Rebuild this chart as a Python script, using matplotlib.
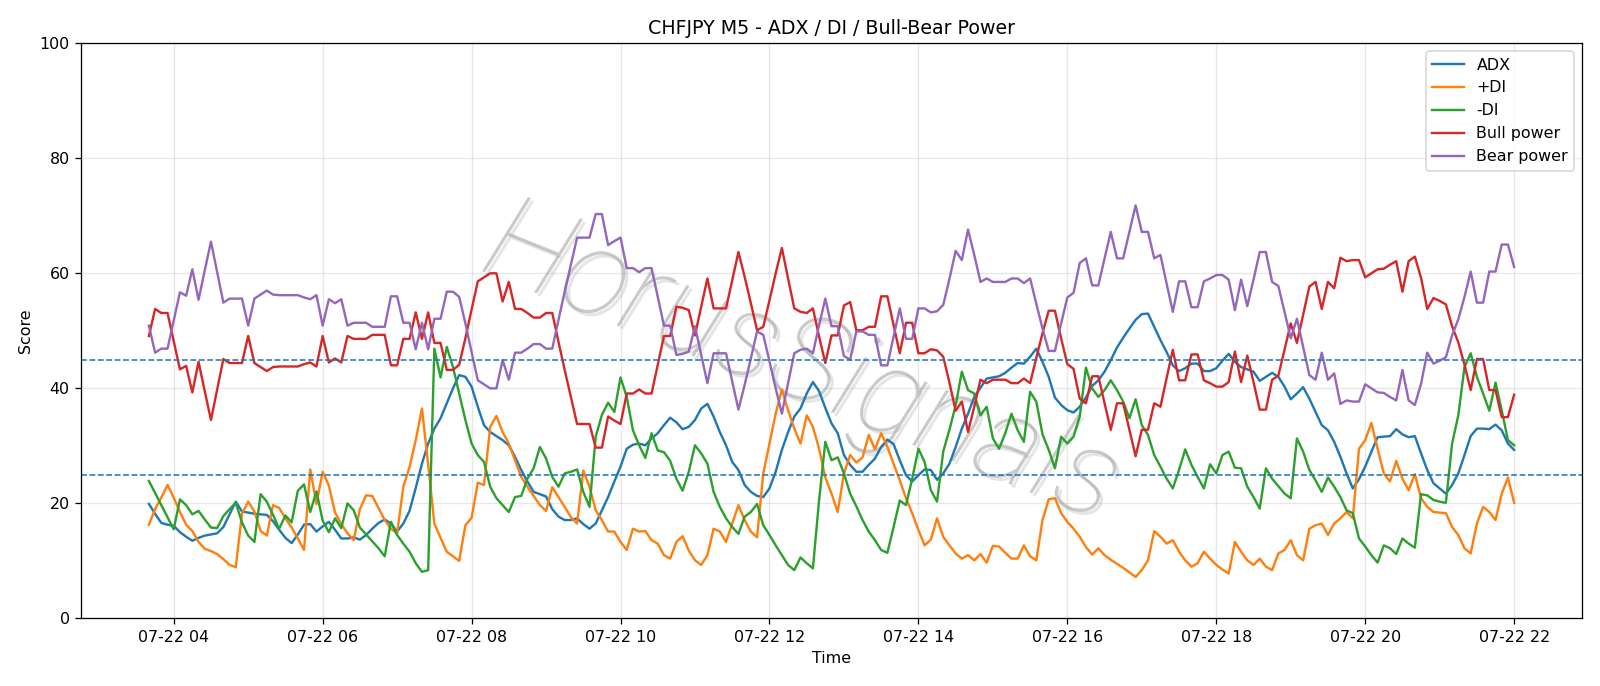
import matplotlib
matplotlib.use('Agg')
import matplotlib.pyplot as plt
import matplotlib.dates as mdates
import matplotlib.patheffects as pe
import pandas as pd

# M5 bars, 07-22 03:40 .. 22:00
start_time = '2025-07-22 03:40'
n_bars = 221

adx = [19.9, 18.2, 16.6, 16.3, 16.1, 15.0, 14.2, 13.5, 14.0, 14.4, 14.6, 14.8, 15.9, 18.1, 20.3, 18.6, 18.4, 18.2, 18.1, 18.0,
       16.9, 15.4, 14.0, 13.1, 14.6, 16.3, 16.4, 15.1, 16.0, 16.8, 15.4, 13.9, 13.9, 14.1, 13.7, 14.5, 15.6, 16.6, 17.2, 16.5,
       15.1, 16.5, 18.7, 22.7, 26.9, 30.4, 33.0, 34.8, 37.4, 40.0, 42.3, 42.0, 40.3, 36.8, 33.6, 32.4, 31.7, 31.0, 30.1, 28.1,
       25.8, 23.8, 22.0, 21.6, 21.2, 19.0, 17.7, 17.1, 17.1, 17.4, 16.4, 15.6, 16.5, 18.8, 21.1, 23.8, 26.4, 29.5, 30.2, 30.4,
       30.1, 31.3, 32.2, 33.6, 34.9, 34.1, 32.9, 33.3, 34.5, 36.5, 37.3, 35.1, 32.4, 30.1, 27.2, 25.8, 23.2, 22.0, 21.3, 21.1,
       22.6, 25.5, 29.3, 32.4, 35.1, 36.5, 39.1, 41.1, 39.5, 36.6, 33.9, 32.2, 28.4, 26.7, 25.5, 25.5, 26.7, 27.8, 29.8, 31.1,
       30.3, 27.5, 24.9, 23.8, 24.9, 25.9, 25.8, 24.1, 25.2, 26.9, 29.8, 33.0, 35.6, 38.5, 40.1, 41.7, 41.9, 42.1, 42.7, 43.6,
       44.4, 44.3, 45.5, 46.9, 44.6, 42.0, 38.4, 37.1, 36.2, 35.8, 36.8, 38.4, 40.4, 41.4, 42.9, 44.9, 47.1, 48.8, 50.4, 51.9,
       52.9, 53.0, 50.7, 48.4, 46.3, 44.0, 43.0, 43.5, 44.3, 44.3, 43.0, 43.0, 43.5, 44.8, 46.0, 44.6, 43.7, 43.3, 42.9, 41.3,
       42.0, 42.7, 42.0, 40.3, 38.1, 39.1, 40.2, 38.2, 35.9, 33.6, 32.7, 30.7, 28.1, 25.2, 22.6, 24.2, 26.4, 29.0, 31.5, 31.6,
       31.7, 32.9, 32.0, 31.5, 31.7, 28.7, 25.8, 23.5, 22.6, 21.7, 23.2, 25.2, 28.4, 31.7, 33.0, 33.0, 32.9, 33.7, 32.7, 30.4,
       29.3]

plus_di = [16.3, 19.0, 21.0, 23.2, 21.0, 18.5, 16.3, 15.2, 13.3, 12.1, 11.7, 11.2, 10.3, 9.3, 8.9, 18.2, 20.3, 18.6, 15.2, 14.4,
           19.7, 19.2, 17.4, 15.8, 13.9, 11.9, 25.9, 19.9, 25.5, 23.1, 18.4, 16.4, 14.8, 13.6, 19.0, 21.4, 21.3, 19.2, 17.1, 15.6,
           14.8, 22.9, 26.3, 31.0, 36.5, 26.8, 16.5, 14.0, 11.6, 10.8, 10.0, 16.2, 17.5, 23.6, 23.2, 33.3, 35.2, 32.4, 30.4, 27.5,
           24.6, 22.9, 21.3, 19.7, 18.7, 22.8, 21.1, 19.4, 17.6, 16.5, 25.7, 22.9, 18.8, 17.1, 15.1, 15.1, 13.3, 11.9, 15.6, 15.1,
           15.2, 13.6, 13.0, 11.0, 10.4, 13.3, 14.3, 11.8, 10.1, 9.3, 11.0, 15.6, 15.1, 13.3, 16.5, 19.7, 17.1, 15.1, 14.1, 25.2,
           30.4, 35.6, 39.8, 36.2, 33.0, 30.4, 35.3, 33.3, 29.5, 24.5, 21.7, 18.5, 25.2, 28.4, 27.1, 28.0, 31.9, 29.4, 32.2, 29.8,
           26.9, 24.0, 20.9, 18.3, 15.4, 12.7, 13.7, 17.4, 14.2, 12.7, 11.3, 10.4, 11.0, 10.1, 11.2, 9.7, 12.6, 12.5, 11.4, 10.4,
           10.4, 12.7, 10.8, 10.1, 17.1, 20.7, 20.9, 18.3, 16.8, 15.6, 14.2, 12.4, 11.1, 12.2, 11.0, 10.2, 9.5, 8.8, 8.0, 7.2,
           8.4, 10.1, 15.2, 14.2, 13.0, 13.6, 11.6, 10.1, 9.0, 9.6, 11.6, 10.4, 9.3, 8.5, 7.8, 13.3, 11.6, 10.1, 9.3, 10.4,
           9.0, 8.4, 11.3, 11.9, 13.6, 11.0, 10.1, 15.6, 16.2, 16.5, 14.5, 16.5, 17.4, 18.5, 17.4, 29.5, 31.0, 34.0, 29.5, 25.2,
           23.8, 27.4, 24.3, 22.3, 25.1, 20.9, 19.4, 18.5, 18.4, 18.3, 15.9, 14.5, 12.2, 11.3, 16.5, 19.4, 18.5, 17.1, 21.7, 24.5,
           20.1]

minus_di = [23.9, 21.8, 19.7, 17.6, 15.5, 20.7, 19.7, 18.1, 18.7, 17.2, 15.8, 15.7, 17.8, 19.0, 20.1, 16.7, 14.4, 13.3, 21.6, 20.3,
            18.0, 15.6, 17.9, 16.7, 22.2, 23.3, 18.5, 22.1, 17.0, 15.0, 17.4, 15.7, 20.0, 18.8, 15.8, 14.6, 13.4, 12.2, 10.8, 16.8,
            14.5, 13.0, 11.6, 9.6, 8.1, 8.4, 46.9, 41.9, 47.2, 43.7, 39.1, 34.5, 30.4, 28.4, 27.2, 22.9, 20.9, 19.7, 18.5, 21.1,
            21.3, 24.3, 26.1, 29.8, 27.8, 24.6, 22.9, 25.2, 25.5, 25.9, 22.0, 19.4, 31.6, 35.4, 37.5, 35.9, 41.9, 38.5, 32.7, 30.1,
            27.9, 32.2, 29.2, 28.9, 27.4, 24.3, 22.2, 25.5, 30.1, 28.7, 26.9, 22.0, 19.4, 17.4, 15.9, 14.7, 17.7, 18.5, 19.9, 16.2,
            14.5, 12.7, 11.0, 9.3, 8.4, 10.6, 9.6, 8.7, 20.6, 30.7, 27.5, 28.0, 25.2, 21.7, 19.5, 17.1, 15.1, 13.6, 11.9, 11.4,
            15.9, 20.5, 19.7, 24.3, 29.5, 27.2, 22.3, 20.3, 29.0, 32.8, 37.0, 42.9, 39.7, 39.1, 35.3, 36.8, 31.3, 29.5, 32.2, 35.6,
            32.7, 30.7, 39.4, 37.7, 32.0, 29.3, 26.1, 31.6, 30.4, 31.6, 35.1, 43.6, 40.0, 38.5, 39.7, 41.4, 39.7, 37.7, 34.8, 38.1,
            33.6, 31.9, 28.4, 26.4, 24.3, 22.6, 25.8, 29.4, 26.7, 24.6, 22.6, 26.8, 25.2, 28.4, 29.0, 26.2, 26.1, 22.9, 21.1, 19.1,
            26.1, 24.3, 23.0, 21.7, 20.9, 31.3, 29.0, 25.8, 24.0, 22.0, 24.5, 22.9, 21.1, 18.8, 18.3, 13.9, 12.5, 11.0, 9.7, 12.7,
            12.2, 11.2, 13.9, 13.0, 12.3, 21.6, 21.4, 20.6, 20.3, 20.1, 30.4, 35.3, 43.7, 46.1, 42.0, 39.1, 36.1, 41.0, 36.2, 31.0,
            30.1]

bull_power = [49.1, 53.8, 53.1, 53.1, 48.2, 43.3, 43.9, 39.3, 44.6, 39.5, 34.5, 39.8, 45.1, 44.4, 44.4, 44.4, 49.1, 44.4, 43.7, 43.0,
              43.7, 43.8, 43.8, 43.8, 43.8, 44.2, 44.5, 43.8, 49.1, 44.5, 45.2, 44.5, 49.1, 48.6, 48.6, 48.6, 49.3, 49.3, 49.3, 44.0,
              44.0, 48.6, 48.6, 53.2, 48.6, 53.2, 47.9, 47.9, 43.2, 43.2, 44.1, 48.7, 53.7, 58.6, 59.3, 60.0, 60.0, 55.1, 58.5, 53.8,
              53.8, 53.1, 52.3, 52.3, 53.1, 53.1, 48.1, 43.2, 38.5, 33.8, 33.8, 33.8, 29.7, 29.7, 35.1, 34.4, 33.8, 39.1, 39.1, 39.8,
              39.1, 39.1, 44.1, 49.1, 49.1, 54.2, 54.0, 53.6, 49.2, 54.2, 59.1, 53.9, 53.9, 53.9, 58.8, 63.7, 59.4, 54.8, 50.1, 50.7,
              55.3, 60.0, 64.4, 59.1, 53.9, 53.3, 53.1, 53.9, 49.0, 44.4, 49.2, 49.2, 54.4, 55.0, 50.1, 50.1, 50.7, 50.7, 56.0, 56.0,
              51.0, 46.1, 51.4, 51.4, 46.1, 46.1, 46.8, 46.6, 45.5, 41.0, 36.1, 37.7, 32.4, 36.8, 41.5, 40.9, 41.5, 41.5, 41.5, 40.9,
              40.9, 41.7, 40.9, 45.3, 49.6, 53.5, 53.5, 48.7, 44.2, 43.4, 38.2, 37.4, 42.1, 42.1, 37.4, 32.8, 37.4, 37.4, 32.8, 28.2,
              32.8, 32.8, 37.4, 36.8, 41.8, 46.7, 41.4, 41.4, 45.9, 45.9, 41.4, 40.9, 40.3, 40.3, 41.1, 46.4, 41.1, 45.7, 41.1, 36.3,
              36.3, 41.5, 42.2, 46.7, 51.3, 47.9, 52.8, 57.7, 58.5, 53.8, 58.5, 57.4, 62.7, 62.1, 62.3, 62.3, 59.3, 60.0, 60.7, 60.8,
              61.5, 62.1, 56.8, 62.1, 62.9, 59.2, 53.8, 55.7, 55.2, 54.6, 50.8, 48.0, 44.1, 39.7, 45.1, 45.1, 39.7, 39.7, 35.0, 35.0,
              38.9]

bear_power = [50.9, 46.2, 46.9, 46.9, 51.8, 56.7, 56.1, 60.7, 55.4, 60.5, 65.5, 60.2, 54.9, 55.6, 55.6, 55.6, 50.9, 55.6, 56.3, 57.0,
              56.3, 56.2, 56.2, 56.2, 56.2, 55.8, 55.5, 56.2, 50.9, 55.5, 54.8, 55.5, 50.9, 51.4, 51.4, 51.4, 50.7, 50.7, 50.7, 56.0,
              56.0, 51.4, 51.4, 46.8, 51.4, 46.8, 52.1, 52.1, 56.8, 56.8, 55.9, 51.3, 46.3, 41.4, 40.7, 40.0, 40.0, 44.9, 41.5, 46.2,
              46.2, 46.9, 47.7, 47.7, 46.9, 46.9, 51.9, 56.8, 61.5, 66.2, 66.2, 66.2, 70.3, 70.3, 64.9, 65.6, 66.2, 60.9, 60.9, 60.2,
              60.9, 60.9, 55.9, 50.9, 50.9, 45.8, 46.0, 46.4, 50.8, 45.8, 40.9, 46.1, 46.1, 46.1, 41.2, 36.3, 40.6, 45.2, 49.9, 49.3,
              44.7, 40.0, 35.6, 40.9, 46.1, 46.7, 46.9, 46.1, 51.0, 55.6, 50.8, 50.8, 45.6, 45.0, 49.9, 49.9, 49.3, 49.3, 44.0, 44.0,
              49.0, 53.9, 48.6, 48.6, 53.9, 53.9, 53.2, 53.4, 54.5, 59.0, 63.9, 62.3, 67.6, 63.2, 58.5, 59.1, 58.5, 58.5, 58.5, 59.1,
              59.1, 58.3, 59.1, 54.7, 50.4, 46.5, 46.5, 51.3, 55.8, 56.6, 61.8, 62.6, 57.9, 57.9, 62.6, 67.2, 62.6, 62.6, 67.2, 71.8,
              67.2, 67.2, 62.6, 63.2, 58.2, 53.3, 58.6, 58.6, 54.1, 54.1, 58.6, 59.1, 59.7, 59.7, 58.9, 53.6, 58.9, 54.3, 58.9, 63.7,
              63.7, 58.5, 57.8, 53.3, 48.7, 52.1, 47.2, 42.3, 41.5, 46.2, 41.5, 42.6, 37.3, 37.9, 37.7, 37.7, 40.7, 40.0, 39.3, 39.2,
              38.5, 37.9, 43.2, 37.9, 37.1, 40.8, 46.2, 44.3, 44.8, 45.4, 49.2, 52.0, 55.9, 60.3, 54.9, 54.9, 60.3, 60.3, 65.0, 65.0,
              61.1]

levels = [25, 45]

times = pd.date_range(start_time, periods=n_bars, freq='5min')

fig = plt.figure(figsize=(14, 686 / (1600 / 14)), dpi=1600 / 14)
ax = fig.add_subplot(111)
fig.subplots_adjust(left=0.0504, right=0.989, top=0.937, bottom=0.0985)

ax.plot(times, adx, label='ADX')
ax.plot(times, plus_di, label='+DI')
ax.plot(times, minus_di, label='-DI')
ax.plot(times, bull_power, label='Bull power')
ax.plot(times, bear_power, label='Bear power')

for lv in levels:
    ax.axhline(lv, linestyle='--', linewidth=1, color='C0')

# watermark - thin grey letters with a soft shadow
ax.text(0.48, 0.44, 'HorusSignals', transform=ax.transAxes, fontsize=76,
        family='Roboto', fontweight='light', style='italic',
        color='#a0a0a0', alpha=0.55, rotation=-22, ha='center', va='center',
        zorder=0,
        path_effects=[pe.SimplePatchShadow(offset=(2, -2), alpha=0.12), pe.Normal()])

ax.set_ylim(0, 100)
ax.xaxis.set_major_locator(mdates.HourLocator(interval=2))
ax.xaxis.set_major_formatter(mdates.DateFormatter('%m-%d %H'))
ax.grid(True, alpha=0.3)
ax.set_title('CHFJPY M5 - ADX / DI / Bull-Bear Power')
ax.set_xlabel('Time')
ax.set_ylabel('Score')
ax.legend(loc='upper right')

fig.savefig('out.png', dpi=1600 / 14)
